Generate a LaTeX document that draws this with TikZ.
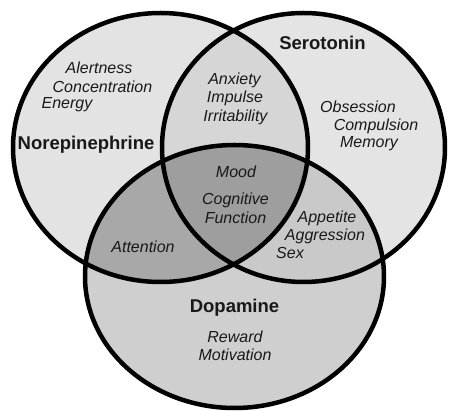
\documentclass[tikz,border=0pt]{standalone}
\usepackage{fontspec}
\setmainfont{Liberation Sans}
\definecolor{neCol}{gray}{0.89}
\definecolor{seCol}{gray}{0.895}
\definecolor{daCol}{gray}{0.81}
\definecolor{nsCol}{gray}{0.84}
\definecolor{ndCol}{gray}{0.66}
\definecolor{sdCol}{gray}{0.79}
\definecolor{allCol}{gray}{0.62}
\newcommand{\nePath}{(160.5,147.5) ellipse [x radius=147.5pt, y radius=134.5pt]}
\newcommand{\sePath}{(303.5,147.5) ellipse [x radius=141.5pt, y radius=134.5pt]}
\newcommand{\daPath}{(234.5,276.5) ellipse [x radius=149.5pt, y radius=131.5pt]}
\tikzset{
	fn/.style={font=\fontsize{16}{18}\selectfont\itshape,text=black!90,inner sep=0pt},
	nt/.style={font=\fontsize{18.5}{20}\selectfont\bfseries,text=black!90,inner sep=0pt},
	ring/.style={draw=black,line width=4.5pt}
}
\begin{document}
\begin{tikzpicture}[x=1pt,y=-1pt]
	\useasboundingbox (0,0) rectangle (456,411);
	\fill[white] (0,0) rectangle (456,411);
	% base fills
	\fill[neCol] \nePath; \fill[seCol] \sePath; \fill[daCol] \daPath;
	% overlaps
	\begin{scope} \clip \nePath; \fill[nsCol] \sePath; \fill[ndCol] \daPath; \end{scope}
	\begin{scope} \clip \sePath; \fill[sdCol] \daPath; \clip \nePath; \fill[allCol] \daPath; \end{scope}
	\draw[ring] \nePath; \draw[ring] \sePath; \draw[ring] \daPath;
	% norepinephrine
	\node[fn] (alert) at (99,68) {Alertness};
	\node[fn] (concen) at (102.5,87) {Concentration};
	\node[fn] (energy) at (67,105) {Energy};
	\node[nt] (norepi) at (86,145) {Norepinephrine};
	% serotonin
	\node[nt] (sero) at (322.5,43) {Serotonin};
	\node[fn] (obses) at (358,107) {Obsession};
	\node[fn] (compul) at (376,126) {Compulsion};
	\node[fn] (memory) at (369,144) {Memory};
	% dopamine
	\node[nt] (dopa) at (234.5,308) {Dopamine};
	\node[fn] (reward) at (235,337) {Reward};
	\node[fn] (motiv) at (235,355) {Motivation};
	% overlaps
	\node[fn] (anxiety) at (234.5,80) {Anxiety};
	\node[fn] (impulse) at (235,98) {Impulse};
	\node[fn] (irrit) at (235.5,117) {Irritability};
	\node[fn] (mood) at (236,172) {Mood};
	\node[fn] (cogn) at (235.5,200) {Cognitive};
	\node[fn] (func) at (235.5,218) {Function};
	\node[fn] (attent) at (143,247) {Attention};
	\node[fn] (appet) at (327,218) {Appetite};
	\node[fn] (aggres) at (325,236) {Aggression};
	\node[fn] (sex) at (290,253) {Sex};
\end{tikzpicture}
\end{document}
